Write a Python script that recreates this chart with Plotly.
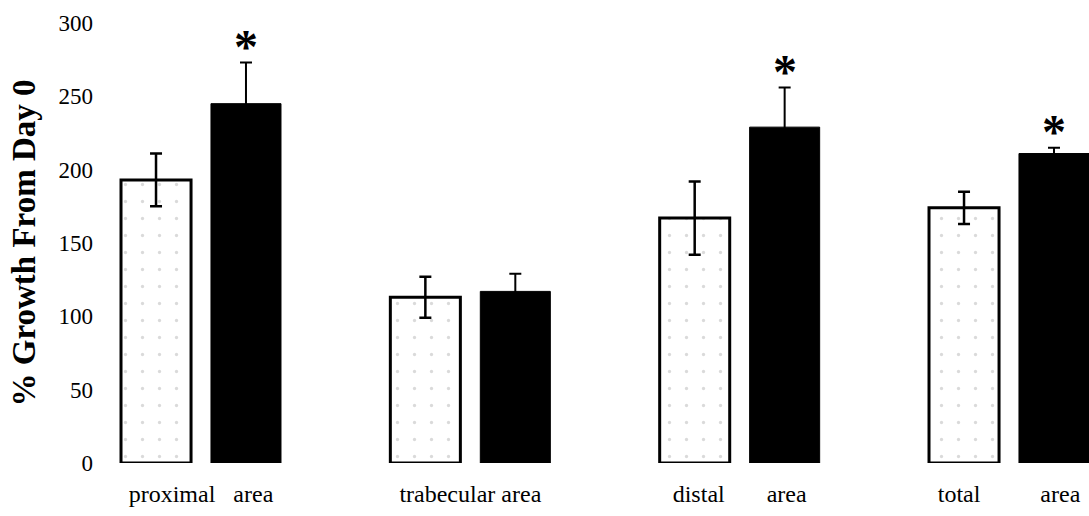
import numpy as np
import plotly.graph_objects as go

# Growth of each bone region relative to day 0 (%), mean and error
regions = ["proximal", "trabecular", "distal", "total"]
tick_labels = [
    "proximal\u00a0\u00a0\u00a0area",
    "trabecular area",
    "distal\u00a0\u00a0\u00a0\u00a0\u00a0\u00a0\u00a0area",
    "total\u00a0\u00a0\u00a0\u00a0\u00a0\u00a0\u00a0\u00a0\u00a0\u00a0area",
]
control_mean = [193, 113, 167, 174]
control_err = [18, 14, 25, 11]
treated_mean = [245, 117, 229, 211]
treated_err = [28, 12, 27, 4]
significant = [True, False, True, True]
y_ticks = [0, 50, 100, 150, 200, 250, 300]

SERIF = "Liberation Serif"
pos = np.arange(len(regions), dtype=float)
offset = 0.167
bar_w = 0.26

fig = go.Figure()
fig.add_trace(go.Bar(
    x=pos - offset, y=control_mean, width=bar_w,
    marker=dict(color="white", line=dict(color="black", width=3),
                pattern=dict(shape=".", fgcolor="#b5b5b5", size=17, solidity=0.03)),
    error_y=dict(type="data", array=control_err, color="black", thickness=2.5, width=6),
    showlegend=False,
))
fig.add_trace(go.Bar(
    x=pos + offset, y=treated_mean, width=bar_w,
    marker=dict(color="black", line=dict(color="black", width=1)),
    error_y=dict(type="data", array=treated_err, color="black", thickness=2, width=6),
    showlegend=False,
))

# significance markers above the treated bars
for i, sig in enumerate(significant):
    if sig:
        fig.add_annotation(
            x=pos[i] + offset, y=treated_mean[i] + treated_err[i],
            text="<b>*</b>", showarrow=False, yanchor="bottom", yshift=-12,
            font=dict(family=SERIF, size=48, color="black"),
        )

fig.update_layout(
    width=1089, height=516,
    margin=dict(l=100, r=0, t=23, b=53),
    paper_bgcolor="white", plot_bgcolor="white",
    barmode="overlay",
    font=dict(family=SERIF, color="black"),
    xaxis=dict(
        range=[-0.375, 3.297], tickvals=pos, ticktext=tick_labels,
        showline=False, showgrid=False, zeroline=False, ticks="",
        ticklabelstandoff=14,
        tickfont=dict(family=SERIF, size=24, color="black"),
    ),
    yaxis=dict(
        range=[0, 300], tickvals=y_ticks, showline=False, showgrid=False,
        zeroline=False, ticks="", ticklabelstandoff=6,
        tickfont=dict(family=SERIF, size=23, color="black"),
        title=dict(text="<b>% Growth From Day 0</b>", standoff=12,
                   font=dict(family=SERIF, size=33, color="black")),
    ),
)

fig.write_html("out.html")
